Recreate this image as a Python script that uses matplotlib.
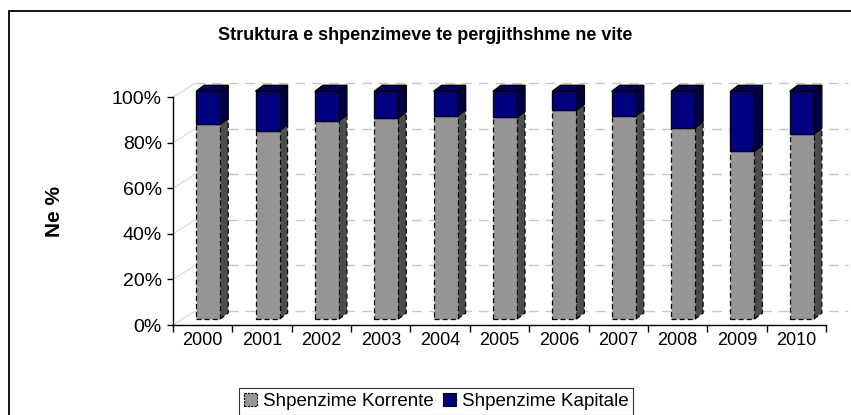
import matplotlib
matplotlib.use("Agg")
import matplotlib.pyplot as plt
from matplotlib.patches import Polygon, Patch, Rectangle
import numpy as np

plt.rcParams['font.family'] = ['Liberation Sans', 'DejaVu Sans']

# ---- data ----
years = ["2000", "2001", "2002", "2003", "2004", "2005", "2006", "2007", "2008", "2009", "2010"]
korrente = [85.5, 82.7, 87.0, 88.3, 89.2, 88.5, 91.7, 89.2, 84.0, 73.7, 81.2]
kapitale = [100 - v for v in korrente]
yticks = [0, 20, 40, 60, 80, 100]
title = "Struktura e shpenzimeve te pergjithshme ne vite"
ylabel = "Ne %"
legend_labels = ["Shpenzime Korrente", "Shpenzime Kapitale"]

# ---- style ----
W, H, DPI = 851, 415, 100
GRAY, GRAY_SIDE = "#969696", "#4d4d4d"
BLUE, BLUE_SIDE, BLUE_TOP = "#000080", "#00004a", "#000064"

fig = plt.figure(figsize=(W / DPI, H / DPI), dpi=DPI)
ax_l, ax_r, ax_b, ax_t = 173, 826, 325, 97.3
ax = fig.add_axes([ax_l / W, 1 - ax_b / H, (ax_r - ax_l) / W, (ax_b - ax_t) / H])
n = len(years)
ax.set_xlim(0, n)
ax.set_ylim(0, 100)

# pixel -> data unit conversion for oblique 3D offsets
px_x = (ax_r - ax_l) / n
px_y = (ax_b - ax_t) / 100.0
def dxu(p): return p / px_x
def dyu(p): return p / px_y

# back wall offset, bar front offset, bar depth
WX, WY = dxu(22), dyu(14)
FX, FY = dxu(5.5), dyu(6)
DX, DY = dxu(8), dyu(6)
BW = dxu(24)

# back wall gridlines + side wall diagonals
for t in yticks:
    ax.plot([WX, n + WX], [t + WY, t + WY], color="#c8c8c8", lw=1.0,
            ls=(0, (7, 5)), clip_on=False, zorder=1)
    ax.plot([0, WX], [t, t + WY], color="#d8d8d8", lw=0.8, clip_on=False, zorder=1)

x = np.arange(n) + 0.5 + FX
DASH = (0, (4, 2.5))
# side faces
for xi, k, c in zip(x, korrente, kapitale):
    xr = xi + BW / 2
    b0, b1, b2 = FY, k + FY, k + c + FY
    ax.add_patch(Polygon([(xr, b0), (xr + DX, b0 + DY), (xr + DX, b1 + DY), (xr, b1)],
                         closed=True, facecolor=GRAY_SIDE, edgecolor="black",
                         lw=0.9, ls=DASH, clip_on=False, zorder=2))
    ax.add_patch(Polygon([(xr, b1), (xr + DX, b1 + DY), (xr + DX, b2 + DY), (xr, b2)],
                         closed=True, facecolor=BLUE_SIDE, edgecolor="black",
                         lw=1.0, clip_on=False, zorder=2))
    xl = xi - BW / 2
    ax.add_patch(Polygon([(xl, b2), (xl + DX, b2 + DY), (xr + DX, b2 + DY), (xr, b2)],
                         closed=True, facecolor=BLUE_TOP, edgecolor="black",
                         lw=1.0, clip_on=False, zorder=2))

# front faces
bars1 = ax.bar(x, korrente, width=BW, bottom=FY, color=GRAY, edgecolor="black",
               lw=0.9, ls=DASH, zorder=3)
bars2 = ax.bar(x, kapitale, width=BW, bottom=np.array(korrente) + FY, color=BLUE,
               edgecolor="black", lw=1.0, zorder=3)
for b in list(bars1) + list(bars2):
    b.set_clip_on(False)

# axes styling
for s in ["top", "right"]:
    ax.spines[s].set_visible(False)
ax.spines["left"].set_linewidth(1.0)
ax.spines["bottom"].set_linewidth(1.0)
ax.set_yticks(yticks)
ax.set_yticklabels([f"{t}%" for t in yticks], fontsize=14)
ax.tick_params(axis="y", length=4, width=1, pad=4)
ax.set_xticks(np.arange(n + 1))
ax.set_xticklabels([])
ax.tick_params(axis="x", which="major", length=5, width=1)
ax.set_xticks(np.arange(n) + 0.5, minor=True)
ax.set_xticklabels(years, minor=True, fontsize=13)
ax.tick_params(axis="x", which="minor", length=0, pad=5)
ax.patch.set_alpha(0)

fig.text(425 / W, 1 - 36 / H, title, ha="center", va="center", fontsize=13,
         fontweight="bold")
fig.text(55 / W, 1 - 211 / H, ylabel, ha="center", va="center", rotation=90,
         fontsize=15, fontweight="bold")

# outer frame
fig.patches.append(Rectangle((9 / W, -0.05), 1.1, 1 - 11 / H + 0.05,
                             transform=fig.transFigure, fill=False,
                             edgecolor="black", lw=1.3))

handles = [Patch(facecolor=GRAY, edgecolor="black", lw=0.8, ls=(0, (2, 1))),
           Patch(facecolor=BLUE, edgecolor="black", lw=0.8)]
leg = fig.legend(handles, legend_labels, ncol=2, loc="center",
                 bbox_to_anchor=(436 / W, 1 - 401.5 / H), fontsize=13.5,
                 frameon=True, fancybox=False, edgecolor="black",
                 handlelength=0.7, handleheight=0.7, handletextpad=0.3,
                 columnspacing=0.5, borderpad=0.25)
leg.get_frame().set_linewidth(0.8)

fig.savefig("out.png", dpi=DPI, facecolor="white")
